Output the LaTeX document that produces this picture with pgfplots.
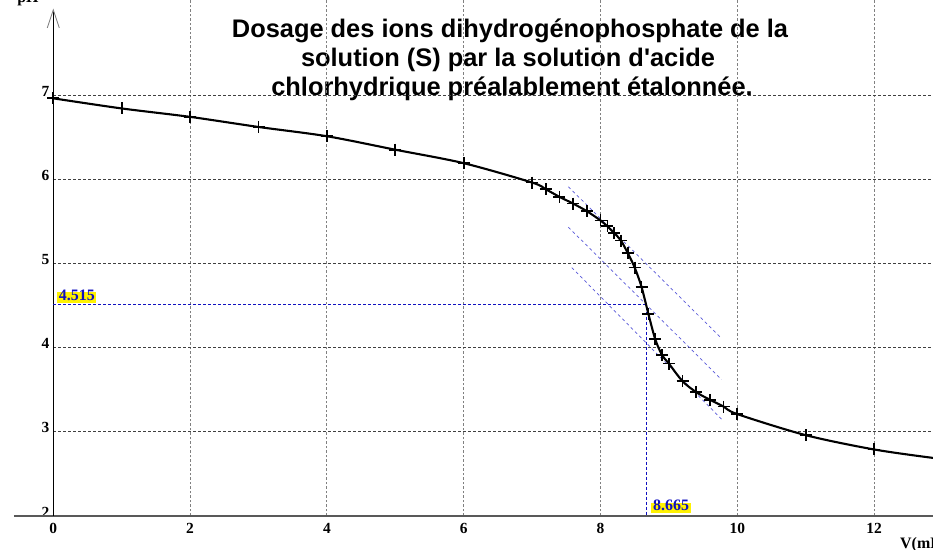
\documentclass[border=0pt]{standalone}
\usepackage{fontspec}
\setmainfont{Liberation Serif}
\newfontfamily\arialfont{Liberation Sans}
\usepackage{pgfplots}
\pgfplotsset{compat=1.18}
\usepackage{pgfplotstable}
\definecolor{eqblue}{HTML}{1010C0}
\definecolor{tanblue}{HTML}{5858D8}

\pgfplotstableread{
V pH
0 6.96
1 6.84
2 6.74
3 6.62
4 6.51
5 6.35
6 6.19
7 5.96
7.2 5.88
7.4 5.79
7.6 5.71
7.8 5.62
8.0 5.51
8.1 5.44
8.2 5.36
8.3 5.27
8.4 5.12
8.5 4.95
8.6 4.72
8.7 4.40
8.8 4.10
8.9 3.91
9.0 3.81
9.2 3.60
9.4 3.47
9.6 3.38
9.8 3.30
10.0 3.21
11 2.96
12 2.79
}\datatable

\pgfplotstableread{
V pH
0 6.96
1 6.84
2 6.74
3 6.62
4 6.51
5 6.35
6 6.19
7 5.96
7.2 5.88
7.4 5.79
7.6 5.71
7.8 5.62
8.0 5.51
8.1 5.44
8.2 5.36
8.3 5.27
8.4 5.12
8.5 4.95
8.6 4.72
8.7 4.40
8.8 4.10
8.9 3.91
9.0 3.81
9.2 3.60
9.4 3.47
9.6 3.38
9.8 3.30
10.0 3.21
11 2.96
12 2.79
12.86 2.69
}\curvetable

\newcommand\tickfont{\bfseries\fontsize{15.5}{16}\selectfont}

\begin{document}
\begin{tikzpicture}
\useasboundingbox (0,0) rectangle (933bp,550bp);
\clip (0,0) rectangle (933bp,550bp);
\tikzset{titlefont/.style={font=\arialfont\bfseries\fontsize{25.5}{29}\selectfont, anchor=base, inner sep=0pt}}
\node[titlefont] at (510bp,512bp) {Dosage des ions dihydrogénophosphate de la};
\node[titlefont] at (508bp,483bp) {solution (S) par la solution d'acide};
\node[titlefont] at (512bp,454bp) {chlorhydrique préalablement étalonnée.};
\begin{axis}[
  at={(53.3bp,34bp)}, anchor=south west,
  scale only axis, width=879.7bp, height=516bp,
  xmin=0, xmax=12.861, ymin=2, ymax=8.128,
  clip=false,
  axis line style={draw=none},
  xtick={2,4,...,12}, ytick={3,4,...,7},
  extra x ticks={0}, extra y ticks={2},
  extra tick style={grid=none},
  major tick length=0pt,
  grid=major,
  x grid style={gray, line width=0.9bp, dash pattern=on 2.5bp off 2bp},
  y grid style={black!75, line width=0.9bp, dash pattern=on 3bp off 2bp},
  xticklabel={\tickfont\pgfmathprintnumber[assume math mode=true]{\tick}},
  yticklabel={\tickfont\pgfmathprintnumber[assume math mode=true]{\tick}},
  xticklabel style={yshift=-4bp},
  yticklabel style={yshift=4bp, xshift=-0.5bp},
]
% axis lines
\draw[line width=1.4bp, black!65] (axis cs:-0.575,2) -- (axis cs:12.861,2);
\draw[line width=1bp, black] (axis cs:0,2) -- (axis cs:0,8.01);
\draw[line width=0.9bp, gray] (axis cs:0,8.01) ++(-6bp,-18bp) -- (axis cs:0,8.01) -- ++(6bp,-18bp);
% tangents
\addplot[tanblue, line width=0.7bp, dash pattern=on 3bp off 3bp] coordinates {(7.53,5.91) (9.77,4.11)};
\addplot[tanblue, line width=0.7bp, dash pattern=on 3bp off 3bp] coordinates {(7.53,5.43) (9.77,3.62)};
\addplot[tanblue, line width=0.7bp, dash pattern=on 3bp off 3bp] coordinates {(7.58,4.95) (9.77,3.15)};
% equivalence point
\addplot[eqblue, line width=0.9bp, dash pattern=on 3bp off 2bp] coordinates {(0,4.515) (8.665,4.515) (8.665,2)};
% curve and points
\addplot[black, line width=2.1bp, smooth, tension=0.5] table[x=V, y=pH] {\curvetable};
\addplot[black, only marks, mark=+, mark size=6bp, mark options={line width=1.7bp}] table[x=V, y=pH] {\datatable};
% labels
\node[fill=yellow, text=eqblue, font=\bfseries\fontsize{16}{16}\selectfont, anchor=south west, inner xsep=1.5bp, inner ysep=1bp, text height=0.7em, text depth=0.15em, xshift=4bp, yshift=1.5bp] at (axis cs:0,4.515) {4.515};
\node[fill=yellow, text=eqblue, font=\bfseries\fontsize{16}{16}\selectfont, anchor=south west, inner xsep=2bp, inner ysep=1bp, text height=0.7em, text depth=0.15em, xshift=5bp, yshift=2.5bp] at (axis cs:8.665,2) {8.665};
\end{axis}
\node[font=\bfseries\fontsize{16}{16}\selectfont, anchor=base, inner sep=0pt] at (28bp,547bp) {pH};
\node[font=\bfseries\fontsize{16}{16}\selectfont, anchor=base west, inner sep=0pt] at (900bp,2bp) {V(mL)};
\end{tikzpicture}
\end{document}
